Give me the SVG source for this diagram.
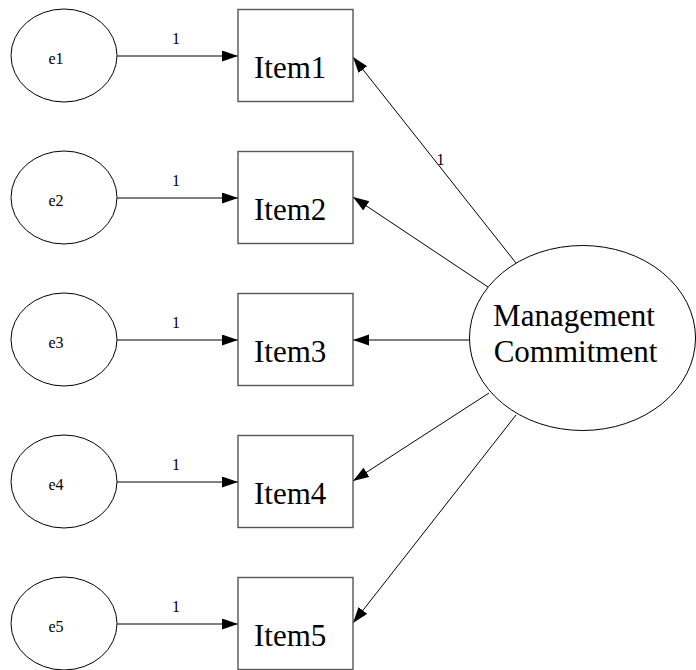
<svg xmlns="http://www.w3.org/2000/svg" width="696" height="670" viewBox="0 0 696 670">
  <style>
    .err { fill: #fff; stroke: #000; stroke-width: 1; }
    .item { fill: #fff; stroke: #555; stroke-width: 1.4; }
    .lat { fill: #fff; stroke: #000; stroke-width: 1; }
    .edge { fill: none; stroke: #000; stroke-width: 1; marker-end: url(#arrow); }
    .small { font-family: "Liberation Serif", "Times New Roman", serif; font-size: 16px; fill: #000; }
    .big { font-family: "Liberation Serif", "Times New Roman", serif; font-size: 31px; fill: #000; }
  </style>
  <defs>
    <marker id="arrow" markerUnits="userSpaceOnUse" markerWidth="16" markerHeight="12" refX="16" refY="5.5" orient="auto">
      <path d="M0,0 L16,5.5 L0,11 z" fill="#000"/>
    </marker>
  </defs>
  <rect width="696" height="670" fill="#fff"/>

  <!-- connectors -->
  <g id="connectors">
    <line class="edge" x1="117" y1="56" x2="238" y2="56"/>
    <line class="edge" x1="117" y1="198" x2="238" y2="198"/>
    <line class="edge" x1="117" y1="340" x2="238" y2="340"/>
    <line class="edge" x1="117" y1="482" x2="238" y2="482"/>
    <line class="edge" x1="117" y1="624" x2="238" y2="624"/>
    <text class="small" x="176" y="44" text-anchor="middle">1</text>
    <text class="small" x="176" y="186" text-anchor="middle">1</text>
    <text class="small" x="176" y="328" text-anchor="middle">1</text>
    <text class="small" x="176" y="470" text-anchor="middle">1</text>
    <text class="small" x="176" y="612" text-anchor="middle">1</text>

    <line class="edge" x1="516" y1="263" x2="353" y2="57"/>
    <line class="edge" x1="488" y1="287" x2="353" y2="197"/>
    <line class="edge" x1="469" y1="340" x2="353" y2="340"/>
    <line class="edge" x1="489" y1="393" x2="353" y2="481"/>
    <line class="edge" x1="516" y1="415" x2="353" y2="623"/>
    <text class="small" x="440.5" y="165" text-anchor="middle">1</text>
  </g>

  <!-- error terms -->
  <g id="e1"><ellipse class="err" cx="64" cy="55.5" rx="53" ry="46.5"/><text class="small" x="48.5" y="64">e1</text></g>
  <g id="e2"><ellipse class="err" cx="64" cy="197.5" rx="53" ry="46.5"/><text class="small" x="48.5" y="206">e2</text></g>
  <g id="e3"><ellipse class="err" cx="64" cy="339.5" rx="53" ry="46.5"/><text class="small" x="48.5" y="348">e3</text></g>
  <g id="e4"><ellipse class="err" cx="64" cy="481.5" rx="53" ry="46.5"/><text class="small" x="48.5" y="490">e4</text></g>
  <g id="e5"><ellipse class="err" cx="64" cy="623.5" rx="53" ry="46.5"/><text class="small" x="48.5" y="632">e5</text></g>

  <!-- observed items -->
  <g id="item1"><rect class="item" x="238" y="9.5" width="115" height="92"/><text class="big" x="254" y="78">Item1</text></g>
  <g id="item2"><rect class="item" x="238" y="151.5" width="115" height="92"/><text class="big" x="254" y="220">Item2</text></g>
  <g id="item3"><rect class="item" x="238" y="293.5" width="115" height="92"/><text class="big" x="254" y="362">Item3</text></g>
  <g id="item4"><rect class="item" x="238" y="435.5" width="115" height="92"/><text class="big" x="254" y="504">Item4</text></g>
  <g id="item5"><rect class="item" x="238" y="577.5" width="115" height="92"/><text class="big" x="254" y="646">Item5</text></g>

  <!-- latent factor -->
  <g id="management-commitment">
    <ellipse class="lat" cx="582.5" cy="338" rx="113" ry="92.5"/>
    <text class="big" x="574" y="326" text-anchor="middle">Management</text>
    <text class="big" x="575.5" y="362" text-anchor="middle">Commitment</text>
  </g>
</svg>
